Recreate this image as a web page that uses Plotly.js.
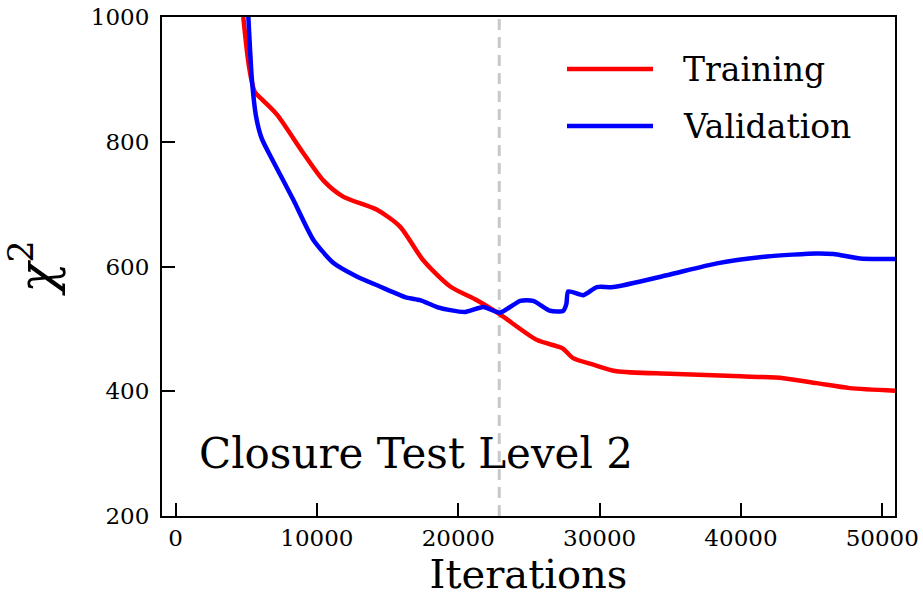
<!DOCTYPE html>
<html>
<head>
<meta charset="utf-8">
<script src="https://cdn.plot.ly/plotly-3.0.1.min.js"></script>
<style>html,body{margin:0;padding:0;background:#fff;}#chart{width:923px;height:607px;}</style>
</head>
<body>
<div id="chart"></div>
<script>
// Training chi2 vs iterations
const trainX = [4790, 5200, 5600, 6200, 7190, 9030, 10450, 11850, 14250, 15880, 17520, 19430, 21320, 22900, 25580, 27000, 27430, 28130, 29500, 31210, 35000, 40000, 43000, 45350, 47700, 50900];
const trainY = [1000, 920, 880, 866, 843, 782, 738, 712, 691, 664, 610, 568, 546, 524, 482, 472, 468, 453, 443, 432, 428, 424, 421, 413, 405, 401];
// Validation chi2 vs iterations
const valX = [5150, 5400, 5700, 6100, 6920, 8330, 9740, 11150, 12820, 14450, 16360, 17300, 18500, 19430, 20490, 21780, 22960, 24380, 25300, 26500, 27430, 27650, 27780, 28850, 29810, 30970, 34760, 38300, 41830, 45360, 46540, 48450, 50900];
const valY = [1000, 900, 840, 805, 768, 707, 643, 606, 584, 568, 550, 546, 535, 530, 527, 535, 526, 545, 545, 529, 529, 540, 560, 554, 567, 567, 586, 605, 616, 621, 620, 613, 612];
const stopIter = 22900;
const xTicks = [0, 10000, 20000, 30000, 40000, 50000];
const yTicks = [200, 400, 600, 800, 1000];
const seriesNames = ["Training", "Validation"];
const seriesColors = ["#ff0000", "#0000ff"];
const annotationText = "Closure Test Level 2";

const font = "DejaVu Serif";

const traces = [
  {x: trainX, y: trainY, mode: "lines", name: seriesNames[0], line: {color: seriesColors[0], width: 4.5, shape: "spline", smoothing: 0.7}, showlegend: false},
  {x: valX, y: valY, mode: "lines", name: seriesNames[1], line: {color: seriesColors[1], width: 4.5, shape: "spline", smoothing: 0.6}, showlegend: false}
];

const axisCommon = {
  showgrid: false, zeroline: false, showline: true, mirror: true,
  linecolor: "#000", linewidth: 2, ticks: "inside", ticklen: 13, tickwidth: 2, tickcolor: "#000",
  tickfont: {family: font, size: 23, color: "#000"}
};

const legendShapes = seriesColors.map((c, i) => ({
  type: "line", xref: "paper", yref: "paper",
  x0: (567 - 162) / 733, x1: (653 - 162) / 733,
  y0: (516 - (69 + i * 57)) / 499, y1: (516 - (69 + i * 57)) / 499,
  line: {color: c, width: 4.5}
}));
const legendAnn = seriesNames.map((n, i) => ({
  xref: "paper", yref: "paper", x: (681 - 162) / 733, y: (516 - (69 + i * 57)) / 499,
  xanchor: "left", yanchor: "middle", text: n, showarrow: false,
  font: {family: font, size: 33, color: "#000"}
}));

const layout = {
  width: 923, height: 607,
  margin: {l: 162, r: 28, t: 17, b: 91},
  paper_bgcolor: "#fff", plot_bgcolor: "#fff",
  xaxis: Object.assign({}, axisCommon, {
    range: [-960, 50900], tickvals: xTicks, ticktext: xTicks.map(String),
    title: {text: "Iterations", font: {family: font, size: 40, color: "#000"}, standoff: 10}
  }),
  yaxis: Object.assign({}, axisCommon, {
    range: [200, 1000], tickvals: yTicks, ticktext: yTicks.map(String), ticklabelstandoff: 6,
    title: {text: "<i>χ</i><sup>2</sup>", font: {family: font, size: 50, color: "#000"}, standoff: 20}
  }),
  shapes: [
    {type: "line", xref: "x", yref: "paper", x0: stopIter, x1: stopIter, y0: 0, y1: 1,
     line: {color: "#c8c8c8", width: 3, dash: "11px,7px"}, layer: "below"}
  ].concat(legendShapes),
  annotations: [
    {xref: "paper", yref: "paper", x: (197 - 162) / 733, y: (516 - 453) / 499, xanchor: "left", yanchor: "middle",
     text: annotationText, showarrow: false, font: {family: font, size: 42, color: "#000"}}
  ].concat(legendAnn)
};

Plotly.newPlot("chart", traces, layout, {displayModeBar: false, staticPlot: true});
</script>
</body>
</html>
